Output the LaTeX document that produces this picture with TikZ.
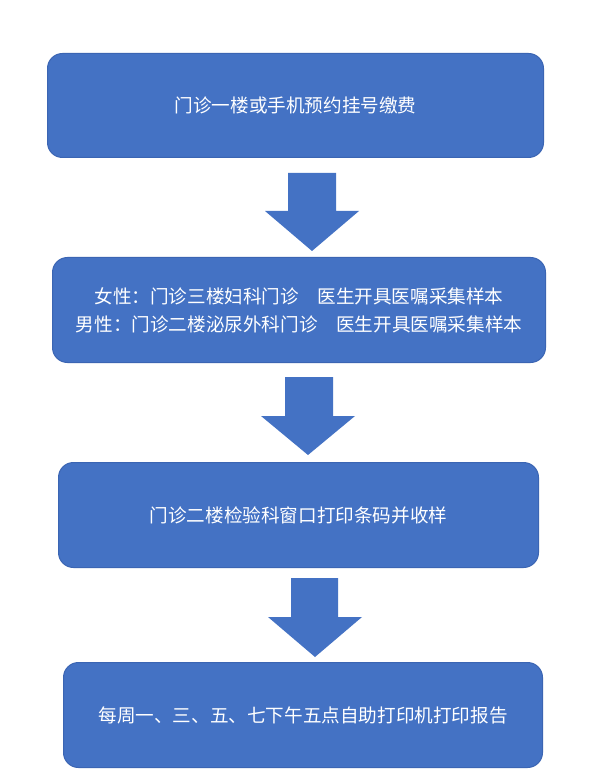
\documentclass[tikz,border=0pt]{standalone}
\usepackage{fontspec}
\newfontfamily\cjk{Noto Sans CJK SC}
\definecolor{boxblue}{HTML}{4472C4}
\definecolor{boxedge}{HTML}{3B65B3}
\tikzset{
  stepbox/.style={draw=boxedge, line width=1pt, fill=boxblue, rounded corners=15pt, anchor=north west, inner sep=0pt, text=white, align=center, font=\cjk\fontsize{18.6}{28}\selectfont},
  blockarrow/.style={fill=boxblue, draw=none}
}
\begin{document}
\begin{tikzpicture}[x=1pt,y=-1pt]
\useasboundingbox[fill=white] (0,0) rectangle (593,783);
\node[stepbox, minimum width=496pt, minimum height=104pt] (b1) at (47,53) {门诊一楼或手机预约挂号缴费};
\node[stepbox, minimum width=493pt, minimum height=105pt] (b2) at (52,257) {女性：门诊三楼妇科门诊\hspace{1em}医生开具医嘱采集样本\\男性：门诊二楼泌尿外科门诊\hspace{1em}医生开具医嘱采集样本};
\node[stepbox, minimum width=480pt, minimum height=105pt] (b3) at (58,462) {门诊二楼检验科窗口打印条码并收样};
\node[stepbox, minimum width=479pt, minimum height=105pt] (b4) at (63,662) {每周一、三、五、七下午五点自助打印机打印报告};
% block arrows
\fill[blockarrow] (288,173) -- (336,173) -- (336,211) -- (359,211) -- (312,251) -- (265,211) -- (288,211) -- cycle;
\fill[blockarrow] (285,377) -- (333,377) -- (333,416) -- (355,416) -- (308,455) -- (261,416) -- (285,416) -- cycle;
\fill[blockarrow] (291,578) -- (338,578) -- (338,617) -- (362,617) -- (315,657) -- (268,617) -- (291,617) -- cycle;
\end{tikzpicture}
\end{document}
